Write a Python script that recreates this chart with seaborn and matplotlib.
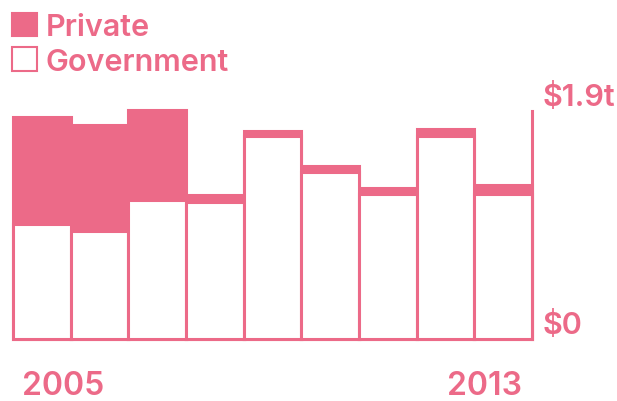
import numpy as np
import pandas as pd
import matplotlib
matplotlib.use('Agg')
import matplotlib.pyplot as plt
import seaborn as sns
from matplotlib.patches import Patch
import matplotlib.transforms as mtransforms

years = ['2005', '2006', '2007', '2008', '2009', '2010', '2011', '2012', '2013']
government = [0.96, 0.90, 1.16, 1.14, 1.69, 1.39, 1.21, 1.69, 1.21]
private = [0.89, 0.88, 0.75, 0.06, 0.04, 0.05, 0.05, 0.06, 0.07]

pink = '#EC6A88'

data = pd.DataFrame({'year': years, 'government': government, 'private': private})
data['total'] = data['government'] + data['private']

sns.set_style('white')
plt.rcParams['font.family'] = ['Inter', 'DejaVu Sans']
fw = 'semibold'
fs = 22

fig = plt.figure(figsize=(6.17, 4.02), dpi=100)
ax = fig.add_axes([0.0211, 0.1542, 0.8411, 0.597])

sns.barplot(data=data, x='year', y='total', color=pink, width=1.0,
            edgecolor=pink, linewidth=2.2, saturation=1, ax=ax)
sns.barplot(data=data, x='year', y='government', color='white', width=1.0,
            edgecolor=pink, linewidth=2.2, saturation=1, ax=ax)
for p in ax.patches:
    p.set_clip_on(False)

ax.set_xlim(-0.5, len(years) - 0.5)
ax.set_ylim(0, 2.0)
ax.set_xlabel('')
ax.set_ylabel('')

for s in ['top', 'left', 'bottom']:
    ax.spines[s].set_visible(False)
ax.spines['right'].set_color(pink)
ax.spines['right'].set_linewidth(2.2)
ax.spines['right'].set_bounds(0, 1.9)

ax.set_xticks([])
ax.set_yticks([])

# right-side value labels sitting on top of their levels
ytrans = mtransforms.blended_transform_factory(ax.transAxes, ax.transData)
ax.text(1.02, 1.9, '$1.9t', transform=ytrans, ha='left', va='bottom',
        fontsize=fs, color=pink, fontweight=fw)
ax.text(1.02, 0.0, '$0', transform=ytrans, ha='left', va='bottom',
        fontsize=fs, color=pink, fontweight=fw)

# year labels below the bars
ax.text(0.017, -0.128, years[0], transform=ax.transAxes, ha='left', va='top',
        fontsize=fs + 1, color=pink, fontweight=fw)
ax.text(0.98, -0.128, years[-1], transform=ax.transAxes, ha='right', va='top',
        fontsize=fs + 1, color=pink, fontweight=fw)

handles = [Patch(facecolor=pink, edgecolor=pink, linewidth=1.5, label='Private'),
           Patch(facecolor='white', edgecolor=pink, linewidth=1.5, label='Government')]
leg = fig.legend(handles=handles, loc='upper left', bbox_to_anchor=(0.02, 0.965),
                 frameon=False, handlelength=0.8, handleheight=0.8,
                 handletextpad=0.3, labelspacing=0.2, borderpad=0, borderaxespad=0,
                 prop={'size': fs, 'weight': fw})
for t in leg.get_texts():
    t.set_color(pink)

fig.savefig('out.png', dpi=100)
plt.close()
